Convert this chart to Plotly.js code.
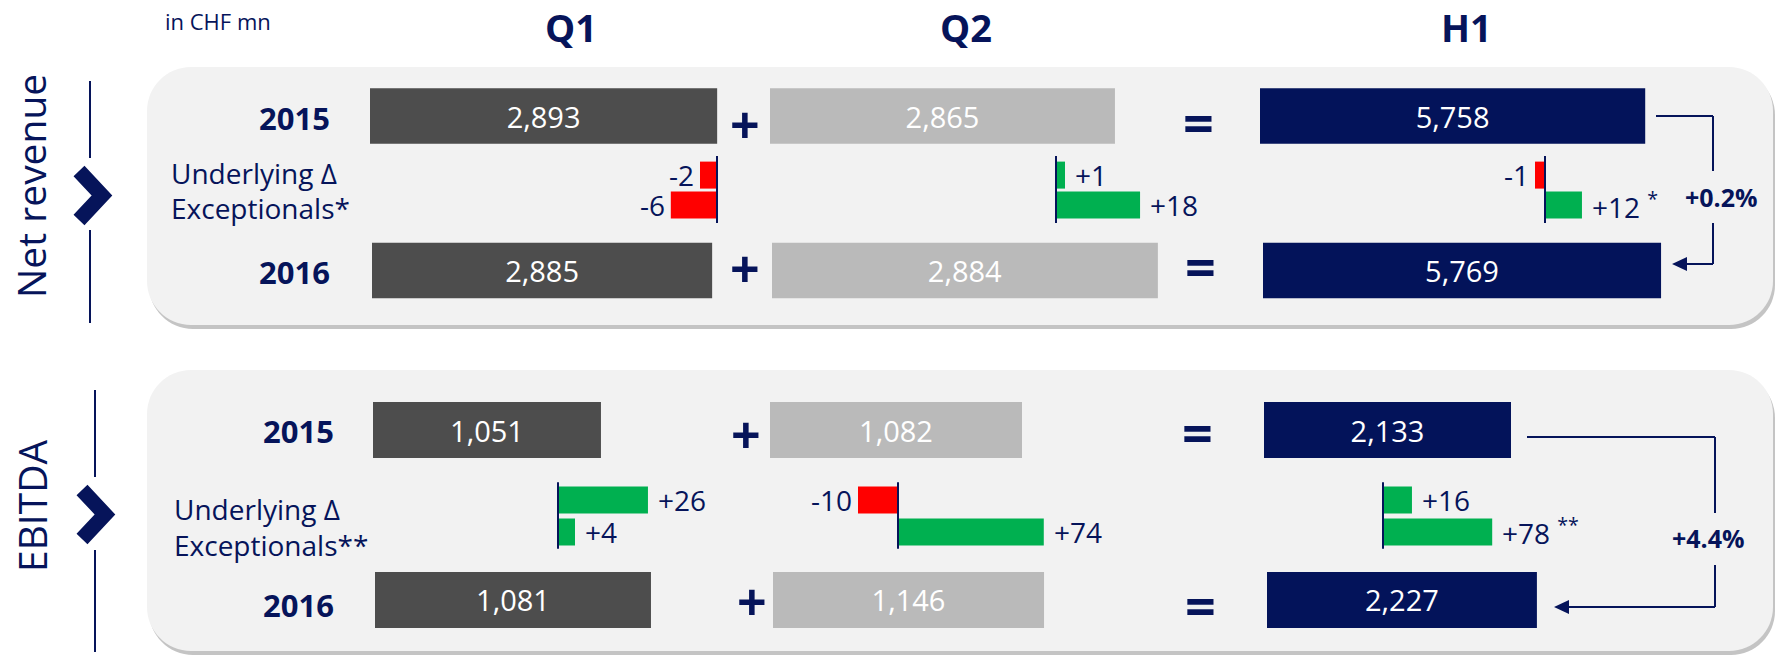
<!DOCTYPE html>
<html>
<head>
<meta charset="utf-8">
<script src="https://cdn.plot.ly/plotly-3.0.1.min.js"></script>
<style>html,body{margin:0;padding:0;background:#fff}#chart{width:1775px;height:656px}</style>
</head>
<body>
<div id="chart"></div>
<script>
// ---------------- data ----------------
const columns = ['Q1', 'Q2', 'H1'];
const panelNames = ['Net revenue', 'EBITDA'];
const years = ['2015', '2016'];
const deltaNames = ['Underlying Δ', 'Exceptionals'];
const exceptionalMarks = ['*', '**'];
const unitNote = 'in CHF mn';

const netRevenue2015 = [2893, 2865, 5758];
const netRevenue2016 = [2885, 2884, 5769];
const netRevenueUnderlying = [-2, 1, -1];
const netRevenueExceptional = [-6, 18, 12];

const ebitda2015 = [1051, 1082, 2133];
const ebitda2016 = [1081, 1146, 2227];
const ebitdaUnderlying = [26, -10, 16];
const ebitdaExceptional = [4, 74, 78];

// ---------------- styling / layout (pixels) ----------------
const W = 1775, H = 656;
const NAVY = '#06145a';
const COL_COLORS = ['#4d4d4d', '#bababa', '#03135a'];
const RED = '#ff0000', GREEN = '#00b050';
const FONT = 'Open Sans, Noto Sans, sans-serif';
const px = x => x / W;
const py = y => 1 - y / H;

const geo = [
  { // Net revenue
    box: [147, 67, 1773, 325],
    rowTop: 116, unit: 30, rows: [0, 1.97, 2.97, 5.15],
    mainThick: 1.85, deltaThick: 0.9,
    left: [[370, 770, 1260], [372, 772, 1263]],
    scale: [[0.1200, 0.1204, 0.0669], [0.1179, 0.1338, 0.0690]],
    deltaBase: [717, 1056, 1545],
    deltaScale: [[8.5, 9, 10], [7.7, 4.67, 3.08]],
    baseLine: [1.33, 3.57],
    yearX: 332, deltaX: 169,
    labelY: [118, 173, 208, 272],
    plusX: [745, 745], plusY: [123, 268],
    eqX: [1198, 1200], eqY: [122, 266],
    sideY: 186, lineX: 90, lineSeg: [[81, 158], [230, 323]],
    chev: [[79, 171], [102, 195.5], [79, 220]],
    bracket: {x0: 1656, xv: 1713, yTop: 116, yGap: [171, 223], yBot: 264, tip: 1672},
    pct: [1721, 197]
  },
  { // EBITDA
    box: [147, 370, 1773, 651],
    rowTop: 430, unit: 33, rows: [0, 2.12, 3.09, 5.15],
    mainThick: 1.7, deltaThick: 0.82,
    left: [[373, 770, 1264], [375, 773, 1267]],
    scale: [[0.2169, 0.2329, 0.1158], [0.2553, 0.2365, 0.1212]],
    deltaBase: [558, 898, 1383],
    deltaScale: [[3.46, 4.0, 1.81], [4.25, 1.97, 1.40]],
    baseLine: [1.58, 3.6],
    yearX: 336, deltaX: 172,
    labelY: [431, 509, 545, 605],
    plusX: [746, 752], plusY: [433, 600],
    eqX: [1197, 1200], eqY: [432, 605],
    sideY: 506, lineX: 95, lineSeg: [[390, 477], [550, 652]],
    chev: [[82, 490], [105, 514.5], [82, 539]],
    bracket: {x0: 1527, xv: 1715, yTop: 437, yGap: [513, 565], yBot: 607, tip: 1554},
    pct: [1708, 538]
  }
];

const panelData = [
  {y2015: netRevenue2015, y2016: netRevenue2016, under: netRevenueUnderlying, exc: netRevenueExceptional},
  {y2015: ebitda2015, y2016: ebitda2016, under: ebitdaUnderlying, exc: ebitdaExceptional}
];

// ---------------- build ----------------
const layout = {
  width: W, height: H,
  margin: {l: 0, r: 0, t: 0, b: 0},
  paper_bgcolor: '#ffffff', plot_bgcolor: 'rgba(0,0,0,0)',
  showlegend: false, barmode: 'overlay', hovermode: false,
  shapes: [], annotations: []
};
const traces = [];
let axisCount = 0;

function newXAxis(l, r, lo, hi, yId) {
  axisCount++;
  const id = axisCount === 1 ? 'x' : 'x' + axisCount;
  const key = axisCount === 1 ? 'xaxis' : 'xaxis' + axisCount;
  layout[key] = {domain: [l / W, r / W], range: [lo, hi], anchor: yId, visible: false, fixedrange: true};
  return id;
}

function txt(x, y, text, size, opts) {
  layout.annotations.push(Object.assign({
    xref: 'paper', yref: 'paper', x: px(x), y: py(y), text: text, showarrow: false,
    xanchor: 'center', yanchor: 'middle',
    font: {family: FONT, size: size, color: NAVY}
  }, opts || {}));
}

function roundRect(x0, y0, x1, y1, r) {
  const k = 0.5523 * r;
  return `M ${px(x0 + r)} ${py(y0)} L ${px(x1 - r)} ${py(y0)} ` +
    `C ${px(x1 - r + k)} ${py(y0)} ${px(x1)} ${py(y0 + r - k)} ${px(x1)} ${py(y0 + r)} ` +
    `L ${px(x1)} ${py(y1 - r)} C ${px(x1)} ${py(y1 - r + k)} ${px(x1 - r + k)} ${py(y1)} ${px(x1 - r)} ${py(y1)} ` +
    `L ${px(x0 + r)} ${py(y1)} C ${px(x0 + r - k)} ${py(y1)} ${px(x0)} ${py(y1 - r + k)} ${px(x0)} ${py(y1 - r)} ` +
    `L ${px(x0)} ${py(y0 + r)} C ${px(x0)} ${py(y0 + r - k)} ${px(x0 + r - k)} ${py(y0)} ${px(x0 + r)} ${py(y0)} Z`;
}

function line(x0, y0, x1, y1, w) {
  layout.shapes.push({type: 'line', xref: 'paper', yref: 'paper', x0: px(x0), y0: py(y0), x1: px(x1), y1: py(y1),
    line: {color: NAVY, width: w || 2}});
}

function fmtDelta(v) { return (v > 0 ? '+' : '') + v; }

// titles
txt(163, 21, unitNote, 22, {xanchor: 'left'});
const titleX = [571, 966, 1466];
columns.forEach((c, i) => txt(titleX[i], 27, '<b>' + c + '</b>', 38));

geo.forEach((g, p) => {
  const d = panelData[p];
  const yId = p === 0 ? 'y' : 'y2';
  const yKey = p === 0 ? 'yaxis' : 'yaxis2';
  const topPx = g.rowTop - 1.5 * g.unit, botPx = g.rowTop + 6.5 * g.unit;
  layout[yKey] = {domain: [py(botPx), py(topPx)], range: [6.5, -1.5], visible: false, fixedrange: true};

  // panel background with shadow
  const [bx0, by0, bx1, by1] = g.box;
  layout.shapes.push({type: 'path', xref: 'paper', yref: 'paper', layer: 'below',
    path: roundRect(bx0 + 2, by0 + 4, bx1 + 2, by1 + 4, 44), fillcolor: '#c4c4c4', line: {width: 0}});
  layout.shapes.push({type: 'path', xref: 'paper', yref: 'paper', layer: 'below',
    path: roundRect(bx0, by0, bx1, by1, 44), fillcolor: '#f2f2f2', line: {width: 0}});

  // side label, divider line and chevron
  txt(31, g.sideY, panelNames[p], 39, {textangle: -90});
  g.lineSeg.forEach(s => line(g.lineX, s[0], g.lineX, s[1], 2));
  const c = g.chev;
  layout.shapes.push({type: 'path', xref: 'paper', yref: 'paper',
    path: `M ${px(c[0][0])} ${py(c[0][1])} L ${px(c[1][0])} ${py(c[1][1])} L ${px(c[2][0])} ${py(c[2][1])}`,
    fillcolor: 'rgba(0,0,0,0)', line: {color: NAVY, width: 15}});

  // row labels
  txt(g.yearX, g.labelY[0], '<b>' + years[0] + '</b>', 31, {xanchor: 'right'});
  txt(g.deltaX, g.labelY[1], deltaNames[0], 28, {xanchor: 'left'});
  txt(g.deltaX, g.labelY[2], deltaNames[1] + exceptionalMarks[p], 28, {xanchor: 'left'});
  txt(g.yearX, g.labelY[3], '<b>' + years[1] + '</b>', 31, {xanchor: 'right'});

  // operators
  g.plusY.forEach((yy, i) => txt(g.plusX[i], yy, '<b>+</b>', 52));
  g.eqY.forEach((yy, i) => txt(g.eqX[i], yy, '<b>=</b>', 54));

  // main bars
  [d.y2015, d.y2016].forEach((vals, r) => {
    const rowPos = g.rows[r === 0 ? 0 : 3];
    vals.forEach((v, i) => {
      const span = 420;
      const xid = newXAxis(g.left[r][i], g.left[r][i] + span, 0, span / g.scale[r][i], yId);
      traces.push({type: 'bar', orientation: 'h', x: [v], y: [rowPos], width: [g.mainThick],
        xaxis: xid, yaxis: yId, marker: {color: COL_COLORS[i], line: {width: 0}},
        texttemplate: '%{x:,}', textposition: 'inside', insidetextanchor: 'middle', constraintext: 'none',
        textfont: {family: FONT, size: 29, color: '#ffffff'}, hoverinfo: 'skip'});
    });
  });

  // delta bars
  [d.under, d.exc].forEach((vals, r) => {
    const rowPos = g.rows[r + 1];
    vals.forEach((v, i) => {
      const span = 170;
      const k = g.deltaScale[r][i];
      const base = g.deltaBase[i];
      const xid = newXAxis(base - span, base + span, -span / k, span / k, yId);
      traces.push({type: 'bar', orientation: 'h', x: [v], y: [rowPos], width: [g.deltaThick],
        xaxis: xid, yaxis: yId, marker: {color: v < 0 ? RED : GREEN, line: {width: 0}}, hoverinfo: 'skip'});
      const suffix = (r === 1 && i === 2) ? ' <sup>' + exceptionalMarks[p] + '</sup>' : '';
      layout.annotations.push({xref: xid, yref: yId, x: v, y: rowPos, text: fmtDelta(v) + suffix,
        showarrow: false, xanchor: v < 0 ? 'right' : 'left', yanchor: 'middle', xshift: v < 0 ? -4 : 8,
        font: {family: FONT, size: 28, color: NAVY}});
      if (r === 0) {
        layout.shapes.push({type: 'line', xref: xid, yref: yId, x0: 0, x1: 0, y0: g.baseLine[0], y1: g.baseLine[1],
          line: {color: NAVY, width: 2}});
      }
    });
  });

  // growth bracket
  const b = g.bracket;
  line(b.x0, b.yTop, b.xv, b.yTop, 2);
  line(b.xv, b.yTop, b.xv, b.yGap[0], 2);
  line(b.xv, b.yGap[1], b.xv, b.yBot, 2);
  line(b.xv, b.yBot, b.tip + 12, b.yBot, 2);
  layout.shapes.push({type: 'path', xref: 'paper', yref: 'paper',
    path: `M ${px(b.tip)} ${py(b.yBot)} L ${px(b.tip + 15)} ${py(b.yBot - 7)} L ${px(b.tip + 15)} ${py(b.yBot + 7)} Z`,
    fillcolor: NAVY, line: {width: 0}});
  const h15 = d.y2015[2], h16 = d.y2016[2];
  const growth = (h16 / h15 - 1) * 100;
  txt(g.pct[0], g.pct[1], '<b>' + (growth >= 0 ? '+' : '') + growth.toFixed(1) + '%</b>', 25);
});

Plotly.newPlot('chart', traces, layout, {staticPlot: true, displayModeBar: false});
</script>
</body>
</html>
